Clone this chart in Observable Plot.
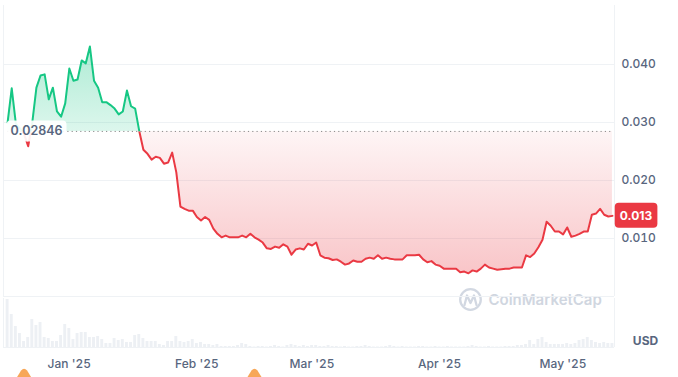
<!DOCTYPE html>
<html><head><meta charset="utf-8">
<script src="https://cdn.jsdelivr.net/npm/d3@7"></script>
<script src="https://cdn.jsdelivr.net/npm/@observablehq/plot@0.6"></script>
<style>
body{margin:0;background:#fff;font-family:Inter,"Noto Sans",sans-serif;}
#chart{position:relative;width:678px;height:377px;overflow:hidden;}
#chart svg{position:absolute;left:0;top:0;}
</style></head><body><div id="chart"></div>
<script>
// ---- data ----
const startDate = "2024-12-17";
const prices = [
  0.0300,0.0359,0.0298,0.0290,0.0280,0.0259,0.0300,0.0360,0.0381,0.0383,
  0.0340,0.0360,0.0319,0.0310,0.0333,0.0393,0.0372,0.0374,0.0407,0.0402,
  0.0431,0.0372,0.0360,0.0335,0.0335,0.0330,0.0324,0.0314,0.0319,0.0355,
  0.0328,0.0324,0.0285,0.0253,
  0.0246,0.0236,0.0241,0.0239,0.0229,0.0231,0.0248,0.0214,0.0155,0.0151,
  0.0148,0.0148,0.0137,0.0131,0.0137,0.0132,0.0117,0.0108,0.0102,0.0105,
  0.0102,0.0102,0.0102,0.0105,0.0102,0.0108,0.0102,0.0098,0.0093,0.0083,
  0.0082,0.0086,0.0084,
  0.0090,0.0086,0.0072,0.0081,0.0083,0.0081,0.0091,0.0088,0.0093,0.0071,
  0.0067,0.0066,0.0063,0.0064,0.0060,0.0055,0.0057,0.0062,0.0060,0.0060,
  0.0065,0.0067,0.0065,0.0071,0.0065,0.0067,0.0065,0.0064,0.0064,0.0064,
  0.0071,0.0071,0.0071,0.0072,0.0064,0.0059,0.0061,0.0055,0.0053,0.0048,
  0.0048,0.0048,
  0.0048,0.0042,0.0043,0.0040,0.0045,0.0043,0.0048,0.0055,0.0050,0.0048,
  0.0046,0.0047,0.0048,0.0048,0.0050,0.0050,0.0050,0.0071,0.0068,0.0074,
  0.0085,0.0098,0.0129,0.0122,0.0112,0.0112,0.0107,0.0119,0.0103,0.0105,
  0.0108,0.0112,0.0112,0.0141,0.0143,0.0151,0.0141,0.0138,0.0139
];
const volumes = [
  48,33,21,14,6,10,28,22,25,10, 9,6,6,12,23,19,8,14,15,15,
  10,10,11,8,4,4,9,7,8,5, 5,12,13,9,6,6,6,3,2,6,
  6,11,6,5,6,8,4,5,3,3, 2,3,1,1,1,1,2,4,3,1,
  0.5,1,1,0.5,1,2,1,0.5,2,3, 2,1,2,1,
  2,2,1,1,2,1,1,0.5,1,0.5, 0.5,1,1,2,1,0.5,0.5,0.5,1,2,
  1,0.5,1,0.5,0.5,0.5,1,1,0.5,0.5, 1,0.5,0.5,1,0.5,0.5,0.5,0.5,1,2,
  1,0.5,0.5,1,0.5,0.5,0.5,1,1,1, 2,
  2,3,7,3,8,10,5,3,3,3, 3,4,3,4,7,8,10,7,5,4, 5,4,4
];
const baseline = 0.02846;
const yTicks = [0.01, 0.02, 0.03, 0.04];
const monthTicks = ["2025-01-01","2025-02-01","2025-03-01","2025-04-01","2025-05-01"];
const monthLabels = ["Jan '25","Feb '25","Mar '25","Apr '25","May '25"];
const eventDates = ["2024-12-21","2025-02-15"];
const currency = "USD";
const brand = "CoinMarketCap";

// ---- styles ----
const GREEN = "#16c784", RED = "#ea3943", TEXT = "#58667e", GRID = "#eff2f5";
const W = 678, H = 377, ML = 3, MR = 64;
const font = "Inter, 'Noto Sans', sans-serif";

const start = new Date(startDate + "T00:00:00Z");
const data = prices.map((p, i) => ({date: d3.utcDay.offset(start, i), price: p, volume: volumes[i]}));
const last = data[data.length - 1];
const xDomain = [d3.utcDay.offset(start, -1), d3.utcHour.offset(last.date, 12)];
const tickDates = monthTicks.map(d => new Date(d + "T00:00:00Z"));
const chart = document.getElementById("chart");

// ---- volume panel (bottom) ----
const capSymbol = {draw(ctx) {
  ctx.moveTo(-15, 12); ctx.lineTo(-3, -7.5);
  ctx.quadraticCurveTo(0, -11, 3, -7.5);
  ctx.lineTo(15, 12); ctx.closePath();
}};
const vol = Plot.plot({
  width: W, height: H, marginLeft: ML, marginRight: MR, marginTop: 298, marginBottom: 30,
  style: {background: "transparent", fontFamily: font, fontSize: "12px", color: TEXT, fontWeight: 500},
  x: {type: "utc", domain: xDomain, ticks: tickDates, tickSize: 0, tickPadding: 12, label: null,
      tickFormat: d => monthLabels[tickDates.findIndex(t => +t === +d)]},
  y: {domain: [0, 49], axis: null},
  marks: [
    Plot.rectY(data, {x1: d => d3.utcHour.offset(d.date, -12), x2: d => d3.utcHour.offset(d.date, 12),
      y: "volume", fill: "#edf0f4", insetLeft: 0.6, insetRight: 0.6}),
    Plot.ruleY([0], {stroke: GRID}),
    Plot.ruleX(xDomain, {stroke: GRID}),
    Plot.text([currency], {frameAnchor: "bottom-right", text: d => d, dx: 31, dy: -3,
      textAnchor: "middle", fill: TEXT, fontWeight: 700, fontSize: 12}),
    Plot.dot(eventDates, {x: d => new Date(d + "T00:00:00Z"), frameAnchor: "bottom", dy: 30.5,
      symbol: capSymbol, r: 10, fill: "#f7a758", stroke: "none"})
  ]
});
chart.appendChild(vol);

// ---- watermark ----
const ns = "http://www.w3.org/2000/svg";
const wm = document.createElementNS(ns, "svg");
wm.setAttribute("width", W); wm.setAttribute("height", H);
wm.innerHTML = `<g fill="none" stroke="#d2d8e2" stroke-width="2.3" stroke-linecap="round" stroke-linejoin="round">
  <circle cx="470.5" cy="299.5" r="10.3"/>
  <path d="M464.5,305 L467,295.5 L470.5,303 L474,295.5 L476.5,305"/></g>
  <text x="488.5" y="305" font-family="${font}" font-size="15" font-weight="600" fill="#d0d6e0">${brand}</text>`;
chart.appendChild(wm);

// ---- price panel (top) ----
const price = Plot.plot({
  width: W, height: H, marginLeft: ML, marginRight: MR, marginTop: 5, marginBottom: 81,
  style: {background: "transparent", fontFamily: font, fontSize: "12px", color: TEXT, fontWeight: 500},
  x: {type: "utc", domain: xDomain, axis: null},
  y: {domain: [0, 0.05017], axis: "right", ticks: yTicks, tickFormat: d3.format(".3f"),
      tickSize: 0, tickPadding: 7, label: null},
  marks: [
    Plot.ruleY([0, ...yTicks], {stroke: GRID}),
    Plot.ruleX(xDomain, {stroke: GRID}),
    Plot.areaY(data, {x: "date", y1: () => baseline, y2: "price", fill: "url(#g-up)"}),
    Plot.areaY(data, {x: "date", y1: () => baseline, y2: "price", fill: "url(#g-down)"}),
    Plot.ruleY([baseline], {x1: data[0].date, x2: d3.utcHour.offset(last.date, -8),
      stroke: "#8a8a8a", strokeDasharray: "1.2,3.1", strokeWidth: 1}),
    Plot.line(data, {x: "date", y: "price", stroke: GREEN, strokeWidth: 2}),
    Plot.line(data, {x: "date", y: "price", stroke: RED, strokeWidth: 2}),
    Plot.text([baseline], {x: () => data[0].date, y: d => d, text: d => d.toFixed(5),
      textAnchor: "start", dx: 3, fill: TEXT, fontWeight: 600, fontSize: 12.5}),
    Plot.text([last], {x: "date", y: "price", text: d => (Math.floor(d.price * 1000) / 1000).toFixed(3),
      dx: 23.5, textAnchor: "middle", fill: "white", fontWeight: 700, fontSize: 12})
  ]
});
chart.appendChild(price);

// gradients & clipping around the reference baseline
const ys = price.scale("y");
const by = ys.apply(baseline), y0 = ys.apply(0), yTop = ys.apply(0.044);
const defs = document.createElementNS(ns, "defs");
defs.innerHTML = `
<linearGradient id="g-up" gradientUnits="userSpaceOnUse" x1="0" x2="0" y1="${yTop}" y2="${by}">
  <stop offset="0" stop-color="${GREEN}" stop-opacity="0.36"/>
  <stop offset="1" stop-color="${GREEN}" stop-opacity="0.15"/></linearGradient>
<linearGradient id="g-down" gradientUnits="userSpaceOnUse" x1="0" x2="0" y1="${by}" y2="${y0}">
  <stop offset="0" stop-color="${RED}" stop-opacity="0.05"/>
  <stop offset="1" stop-color="${RED}" stop-opacity="0.33"/></linearGradient>
<clipPath id="c-up"><rect x="0" y="0" width="${W}" height="${by}"/></clipPath>
<clipPath id="c-down"><rect x="0" y="${by}" width="${W}" height="${H - by}"/></clipPath>`;
price.insertBefore(defs, price.firstChild);
const areas = price.querySelectorAll('g[aria-label="area"]');
areas[0].setAttribute("clip-path", "url(#c-up)");
areas[1].setAttribute("clip-path", "url(#c-down)");
const lines = price.querySelectorAll('g[aria-label="line"]');
lines[0].setAttribute("clip-path", "url(#c-up)");
lines[1].setAttribute("clip-path", "url(#c-down)");

// label boxes
const texts = price.querySelectorAll('g[aria-label="text"] text');
function box(t, px, py, fill, rx) {
  const b = t.getBBox();
  const r = document.createElementNS(ns, "rect");
  r.setAttribute("x", b.x - px); r.setAttribute("y", b.y - py);
  r.setAttribute("width", b.width + 2 * px); r.setAttribute("height", b.height + 2 * py);
  r.setAttribute("rx", rx); r.setAttribute("fill", fill);
  const tr = t.getAttribute("transform");
  if (tr) r.setAttribute("transform", tr);
  t.parentNode.insertBefore(r, t);
}
box(texts[0], 4, 3, "rgba(255,255,255,0.92)", 4);
box(texts[1], 5, 5, RED, 4);
</script></body></html>
